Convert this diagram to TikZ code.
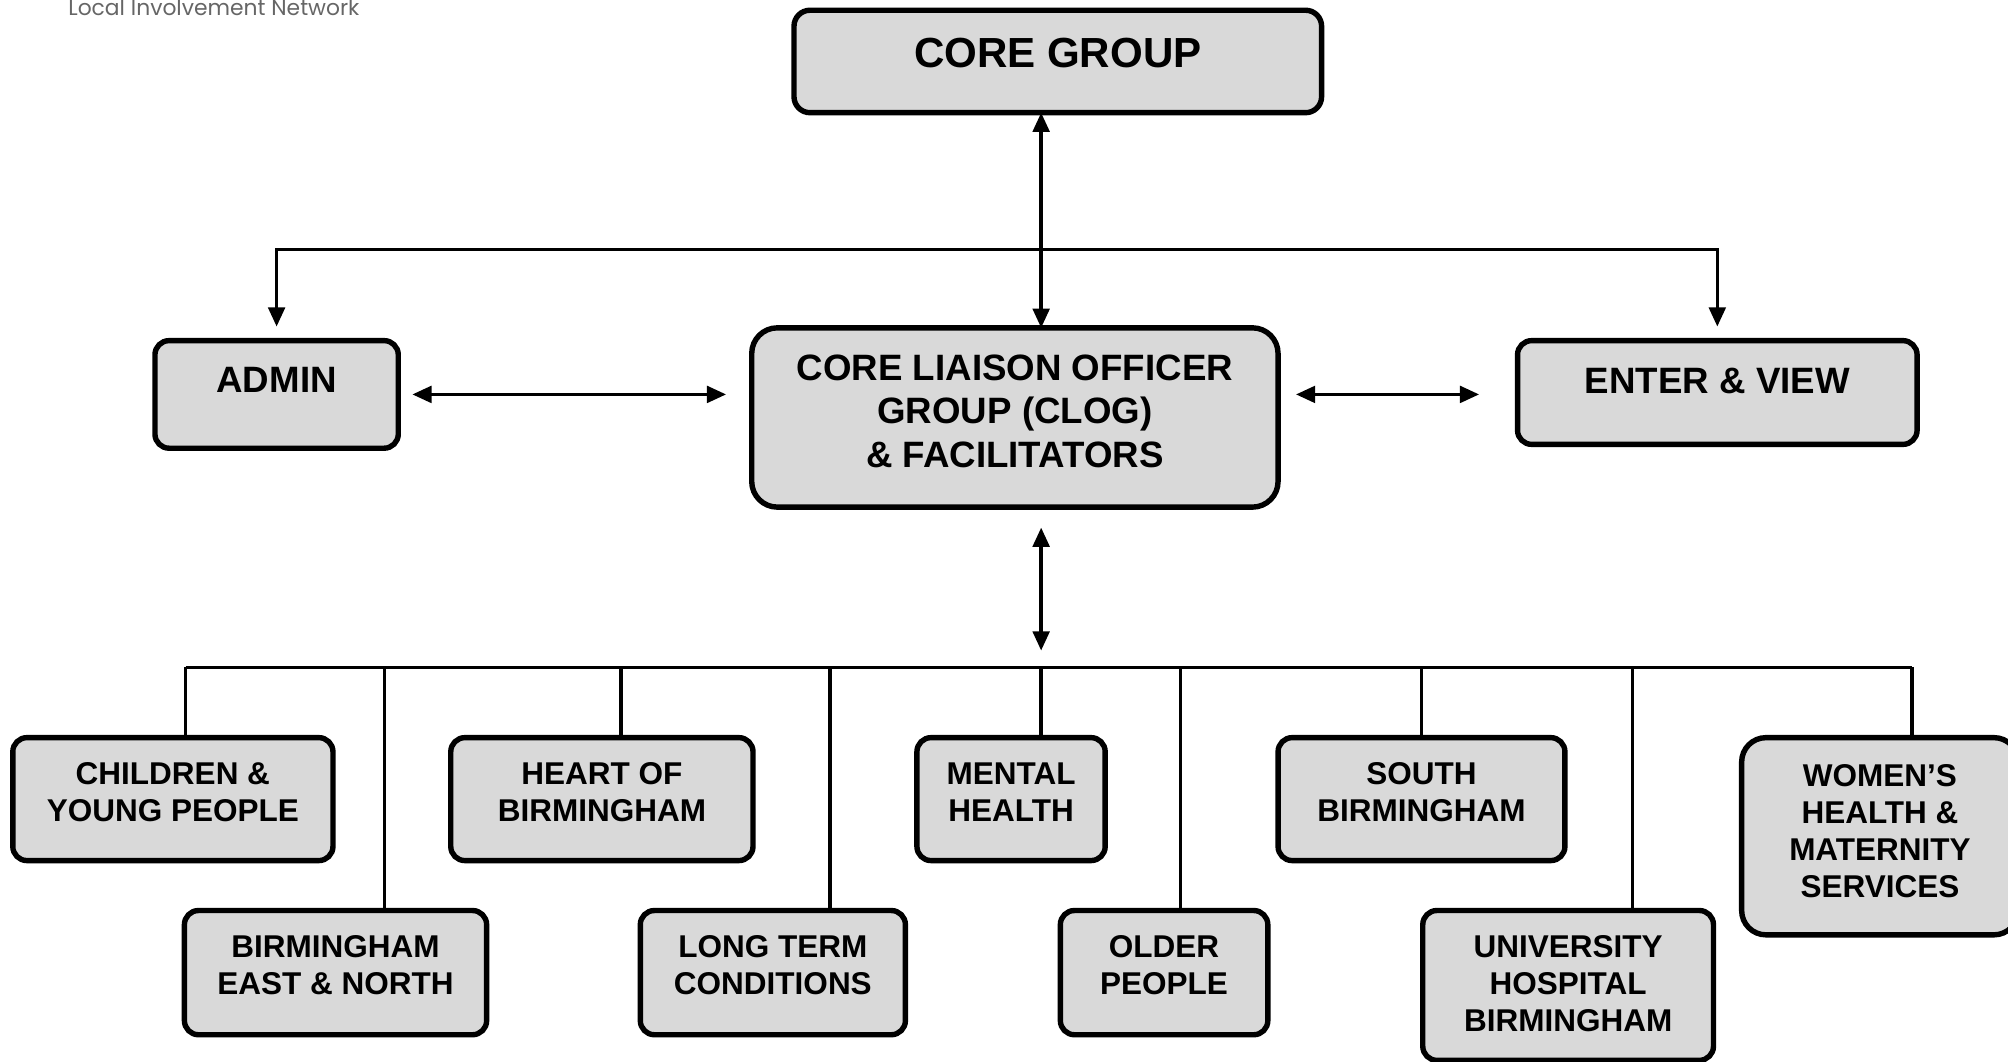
\documentclass[tikz,border=0pt]{standalone}
\usepackage{fontspec}
\setmainfont{Liberation Sans}
\newfontfamily\logofont{Poppins}
\usetikzlibrary{positioning,arrows.meta}
\colorlet{boxgray}{black!15}

\begin{document}
\begin{tikzpicture}[panel/.style={rectangle, draw, line width=2.4pt, rounded corners=#1, fill=boxgray, align=center, inner sep=0pt, outer sep=0pt}, panel/.default=0.22cm, lift/.style={execute at end node={\rule[-#1]{0pt}{#1}}}, titlefont/.style={font=\fontsize{18.7}{22}\selectfont\bfseries}, midfont/.style={font=\fontsize{16.3}{19.4}\selectfont\bfseries}, subfont/.style={font=\fontsize{14}{16.5}\selectfont\bfseries}, link/.style={line width=1.5pt}, twoway/.style={link, {Triangle[length=0.3cm,width=0.26cm]}-{Triangle[length=0.3cm,width=0.26cm]}}, feed/.style={link, -{Triangle[length=0.3cm,width=0.26cm]}}]

\useasboundingbox (0,0) rectangle (31.36,-16.58);

% LOGO
\node [anchor=base west, inner sep=0pt, text=black!60, font=\logofont\fontsize{9.7}{10}\selectfont] (logo) at (1.06,-0.24) {Local Involvement Network};

% TOP LEVEL
\node [panel=0.25cm, titlefont, lift=0.28cm, minimum width=8.24cm, minimum height=1.6cm] (core) at (16.52,-0.96) {CORE GROUP};

\node [panel=0.4cm, midfont, lift=0.2cm, minimum width=8.22cm, minimum height=2.8cm, below=3.36cm of core.south, xshift=-0.67cm] (clog)
{CORE LIAISON OFFICER\\GROUP (CLOG)\\\& FACILITATORS};

\node [panel, midfont, lift=0.44cm, minimum width=3.8cm, minimum height=1.68cm, anchor=north west] (admin) at (2.42,-5.32) {ADMIN};

\node [panel, midfont, lift=0.38cm, minimum width=6.24cm, minimum height=1.62cm, anchor=north west] (enter) at (23.7,-5.32) {ENTER \& VIEW};

\coordinate (topbus) at (16.26,-3.9);
\coordinate (bus) at (16.26,-10.42);

% GROUPS, FIRST ROW
\node [panel, subfont, lift=0.22cm, minimum width=5cm, minimum height=1.92cm, anchor=north west] (children) at (0.2,-11.52)
{CHILDREN \&\\YOUNG PEOPLE};

\node [panel, subfont, lift=0.22cm, minimum width=4.72cm, minimum height=1.92cm, right=1.84cm of children.north east, anchor=north west] (heart)
{HEART OF\\BIRMINGHAM};

\node [panel, subfont, lift=0.22cm, minimum width=2.94cm, minimum height=1.92cm, right=2.56cm of heart.north east, anchor=north west] (mental)
{MENTAL\\HEALTH};

\node [panel, subfont, lift=0.22cm, minimum width=4.48cm, minimum height=1.92cm, right=2.7cm of mental.north east, anchor=north west] (south)
{SOUTH\\BIRMINGHAM};

\node [panel=0.38cm, subfont, lift=0.16cm, minimum width=4.32cm, minimum height=3.08cm, right=2.76cm of south.north east, anchor=north west] (women)
{WOMEN’S\\HEALTH \&\\MATERNITY\\SERVICES};

% GROUPS, SECOND ROW
\node [panel, subfont, lift=0.24cm, minimum width=4.72cm, minimum height=1.94cm, anchor=north west] (bham) at (2.88,-14.22)
{BIRMINGHAM\\EAST \& NORTH};

\node [panel, subfont, lift=0.24cm, minimum width=4.14cm, minimum height=1.94cm, right=2.4cm of bham.north east, anchor=north west] (longterm)
{LONG TERM\\CONDITIONS};

\node [panel, subfont, lift=0.24cm, minimum width=3.24cm, minimum height=1.94cm, right=2.42cm of longterm.north east, anchor=north west] (older)
{OLDER\\PEOPLE};

\node [panel, subfont, lift=0.06cm, minimum width=4.54cm, minimum height=2.34cm, right=2.42cm of older.north east, anchor=north west] (univ)
{UNIVERSITY\\HOSPITAL\\BIRMINGHAM};

% LINKS
\draw [twoway] (core.south -| topbus) -- (clog.north -| topbus);
\draw [feed, shorten >=0.22cm] (topbus) -| (admin.north);
\draw [feed, shorten >=0.22cm] (topbus) -| (enter.north);
\draw [twoway, shorten <=0.22cm, shorten >=0.4cm] (admin.east) -- (admin.east -| clog.west);
\draw [twoway, shorten <=0.28cm, shorten >=0.6cm] (admin.east -| clog.east) -- (admin.east -| enter.west);
\draw [twoway, shorten <=0.32cm, shorten >=0.26cm] (clog.south -| bus) -- (bus);

\draw [link] ([xshift=0.2cm]children.north |- bus) -- ([xshift=0.5cm]women.north |- bus);
\foreach \group/\dx in {children/0.2, heart/0.3, mental/0.47, south/0, women/0.5, bham/0.76, longterm/0.89, older/0.26, univ/1.01}
  \draw [link] ([xshift=\dx cm]\group.north) -- ([xshift=\dx cm]\group.north |- bus);

\end{tikzpicture}
\end{document}
